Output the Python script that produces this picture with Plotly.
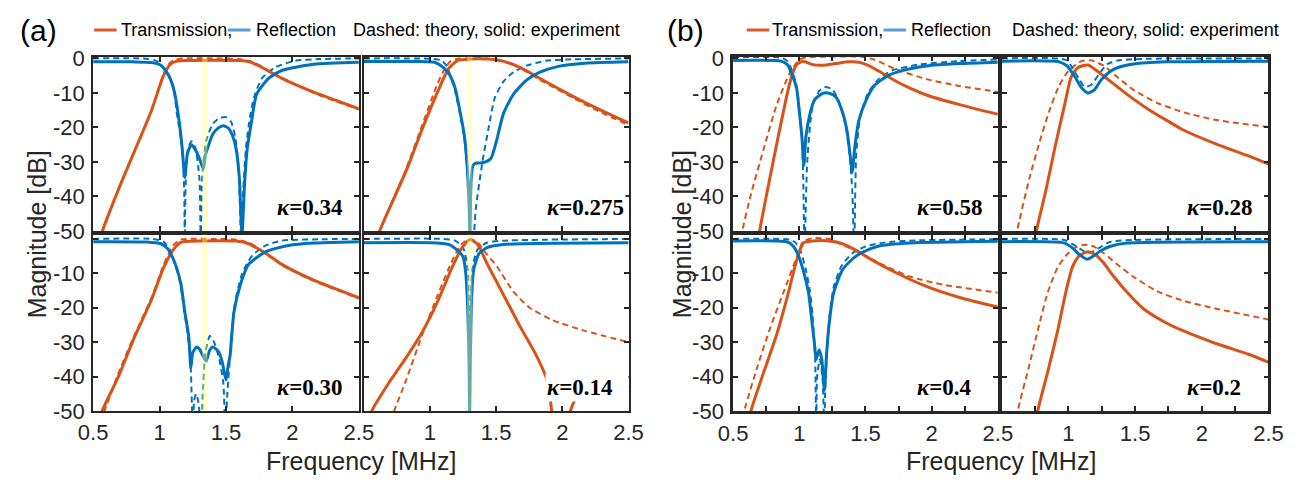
import plotly.graph_objects as go

# ---------------- data (frequency in MHz, magnitude in dB) ----------------
# Panel (a), kappa = 0.34
a1_t_exp_f = [0.55, 0.57, 0.69, 0.81, 0.94, 1.03, 1.08, 1.13, 1.2, 1.4, 1.6, 1.67, 1.77, 1.92, 2.16, 2.5]
a1_t_exp_db = [-53, -50, -38, -27, -15, -4.9, -1.7, -0.8, -0.6, -0.5, -0.6, -0.9, -2.6, -5.8, -9.8, -14.6]
a1_t_th_f = [0.55, 0.57, 0.69, 0.81, 0.94, 1.03, 1.08, 1.12, 1.2, 1.4, 1.6, 1.7, 1.8, 1.95, 2.16, 2.5]
a1_t_th_db = [-53, -50, -38, -27, -15, -4.5, -1.2, -0.3, 0, 0, -0.2, -1.0, -3.0, -6.2, -10.0, -14.8]
a1_r_exp_f = [0.5, 0.8, 0.94, 1.01, 1.07, 1.11, 1.15, 1.17, 1.19, 1.21, 1.24, 1.27, 1.30, 1.33, 1.345, 1.37, 1.40, 1.44, 1.48,
              1.52, 1.55, 1.575, 1.60, 1.62, 1.64, 1.66, 1.69, 1.73, 1.82, 1.92, 2.16, 2.5]
a1_r_exp_db = [-1, -1, -1.2, -2, -5, -9.5, -19, -26, -34.5, -27.5, -25, -26.5, -29, -32, -28, -25, -22, -20.2, -19.5,
               -20.3, -22.5, -26, -34.5, -51, -36, -26, -18.8, -10.4, -5.8, -3.5, -1.7, -1.1]
a1_r_th_f = [0.5, 0.9, 0.98, 1.05, 1.10, 1.13, 1.17, 1.185, 1.19, 1.195, 1.21, 1.24, 1.27, 1.30, 1.31, 1.32, 1.35, 1.40,
             1.45, 1.50, 1.54, 1.57, 1.595, 1.615, 1.63, 1.65, 1.68, 1.71, 1.77, 1.87, 2.02, 2.2, 2.5]
a1_r_th_db = [0, -0.1, -0.8, -4, -7.7, -16, -26, -38, -55, -38, -27, -24, -26, -35, -55, -35, -24, -19, -17.3, -17,
              -18.5, -23, -32, -55, -38, -26, -17, -11.4, -5.8, -2.6, -0.7, -0.2, 0]

# Panel (a), kappa = 0.275
a2_t_exp_f = [0.60, 0.62, 0.82, 0.94, 1.06, 1.14, 1.21, 1.30, 1.43, 1.55, 1.68, 1.83, 2.05, 2.29, 2.5]
a2_t_exp_db = [-53, -50, -32.6, -20.6, -9.5, -3, -0.6, -0.2, -0.2, -0.8, -2.6, -5.8, -10.4, -15, -18.7]
a2_t_th_f = [0.60, 0.62, 0.82, 0.94, 1.05, 1.10, 1.15, 1.19, 1.3, 1.43, 1.55, 1.68, 1.83, 2.05, 2.29, 2.5]
a2_t_th_db = [-53, -50, -32, -19.5, -8, -3.8, -1, -0.2, 0, 0, -0.8, -2.8, -6.2, -10.8, -15.6, -19.3]
a2_r_exp_f = [0.5, 0.9, 1.04, 1.10, 1.15, 1.19, 1.22, 1.26, 1.28, 1.295, 1.302, 1.31, 1.325, 1.35, 1.38, 1.42, 1.46,
              1.48, 1.506, 1.555, 1.63, 1.73, 1.83, 1.97, 2.17, 2.5]
a2_r_exp_db = [-0.9, -0.9, -1.2, -2.6, -4.9, -8.6, -14, -22.4, -30.7, -42, -51, -36, -31, -30.3, -30.3, -30, -29,
               -27, -23.4, -16, -10.4, -6.3, -4, -2.3, -1.4, -1]
a2_r_th_f = [0.5, 1.0, 1.08, 1.125, 1.19, 1.26, 1.30, 1.31, 1.32, 1.346, 1.395, 1.445, 1.49, 1.555, 1.63, 1.73, 1.875,
             2.05, 2.5]
a2_r_th_db = [0, -0.1, -0.5, -2.1, -9.5, -23.4, -41.8, -55, -55, -43.7, -30.3, -19.7, -11.4, -6.7, -4, -2.1, -0.7,
              -0.3, 0]

# Panel (a), kappa = 0.30
a3_t_exp_f = [0.55, 0.57, 0.69, 0.81, 0.94, 1.03, 1.11, 1.16, 1.3, 1.45, 1.575, 1.67, 1.80, 1.92, 2.16, 2.5]
a3_t_exp_db = [-53, -49.8, -40, -28.6, -17.6, -8.3, -2.8, -1, -0.6, -0.5, -0.6, -1.4, -4.2, -7.4, -12, -17.1]
a3_t_th_f = [0.56, 0.585, 0.69, 0.81, 0.94, 1.03, 1.10, 1.15, 1.2, 1.4, 1.58, 1.68, 1.80, 1.92, 2.16, 2.5]
a3_t_th_db = [-53, -50, -39, -28, -17, -7.5, -2, -0.3, 0, 0, -0.2, -1.2, -4.2, -7.6, -12.2, -17.3]
a3_r_exp_f = [0.5, 0.9, 1.01, 1.06, 1.11, 1.16, 1.19, 1.22, 1.235, 1.25, 1.28, 1.30, 1.32, 1.35, 1.375, 1.40, 1.44,
              1.47, 1.50, 1.515, 1.53, 1.56, 1.61, 1.67, 1.80, 1.97, 2.16, 2.5]
a3_r_exp_db = [-0.8, -0.9, -1.4, -2.8, -6.5, -13, -21.2, -28.6, -37.5, -33, -31.4, -32, -33.5, -35.5, -32.5, -31.4,
               -32.5, -35.5, -41, -37, -34, -21.2, -13, -7.4, -3.7, -1.9, -1.2, -0.8]
a3_r_th_f = [0.5, 0.95, 1.03, 1.08, 1.145, 1.19, 1.23, 1.25, 1.26, 1.275, 1.29, 1.315, 1.325, 1.345, 1.378, 1.41,
             1.45, 1.48, 1.495, 1.51, 1.53, 1.56, 1.62, 1.70, 1.80, 1.92, 2.2, 2.5]
a3_r_th_db = [0, 0, -0.8, -3.7, -11, -22, -34, -55, -47, -45, -47, -55, -45, -33, -28.2, -30, -35, -42, -55, -45,
              -34, -20.3, -10.2, -4.7, -1.9, -0.5, -0.1, 0]

# Panel (a), kappa = 0.14
a4_t_exp_f = [0.54, 0.56, 0.69, 0.82, 0.94, 1.06, 1.16, 1.235, 1.30, 1.36, 1.43, 1.555, 1.68, 1.80, 1.875, 1.90,
              1.92, 1.95, 2.0, 2.06, 2.10, 2.2, 2.35, 2.5]
a4_t_exp_db = [-52, -50, -41.8, -34.5, -27.2, -18, -8.9, -3, -0.2, -1.6, -7.1, -16.2, -25.4, -33.6, -40, -44, -50,
               -55, -56, -50, -46.5, -44.5, -43.5, -43]
a4_t_th_f = [0.71, 0.73, 0.82, 0.94, 1.06, 1.16, 1.235, 1.30, 1.36, 1.43, 1.506, 1.63, 1.75, 1.92, 2.17, 2.5]
a4_t_th_db = [-53, -50, -41, -28, -16.2, -7, -1.6, 0, -1, -4.5, -8, -15.3, -19.9, -23.5, -26.7, -30]
a4_r_exp_f = [0.5, 1.0, 1.14, 1.21, 1.25, 1.27, 1.285, 1.295, 1.30, 1.305, 1.315, 1.33, 1.37, 1.43, 1.555, 2.5]
a4_r_exp_db = [-1.1, -1.1, -1.6, -3.4, -5.2, -9.8, -20, -35, -51, -35, -17, -8.9, -4.3, -2.5, -1.6, -1.1]
a4_r_th_f = [0.5, 1.1, 1.19, 1.25, 1.285, 1.297, 1.30, 1.303, 1.32, 1.36, 1.43, 1.55, 2.5]
a4_r_th_db = [0, 0, -0.5, -2.5, -8.9, -30, -55, -30, -8.9, -3, -1.1, -0.5, 0]

# Panel (b), kappa = 0.58
b1_t_exp_f = [0.68, 0.70, 0.81, 0.93, 0.98, 1.03, 1.10, 1.18, 1.275, 1.37, 1.45, 1.52, 1.62, 1.72, 1.84, 1.96, 2.21, 2.5]
b1_t_exp_db = [-55, -50, -28.5, -6.9, -1.8, -0.8, -1.8, -2, -1.5, -1, -1.1, -2, -4.1, -6.4, -8.7, -10.6, -13.4, -16.2]
b1_t_th_f = [0.555, 0.57, 0.635, 0.73, 0.83, 0.93, 1.00, 1.05, 1.2, 1.47, 1.57, 1.72, 1.96, 2.21, 2.5]
b1_t_th_db = [-55, -50, -39.4, -26.4, -13.4, -4.1, -0.4, 0.3, 0.5, 0.5, -0.4, -3.0, -6.0, -8.0, -9.7]
b1_r_exp_f = [0.5, 0.86, 0.91, 0.94, 0.98, 1.00, 1.02, 1.035, 1.05, 1.08, 1.115, 1.18, 1.225, 1.275, 1.32, 1.36,
              1.385, 1.40, 1.42, 1.45, 1.50, 1.57, 1.67, 1.77, 1.96, 2.21, 2.5]
b1_r_exp_db = [-0.6, -0.8, -1.8, -4.1, -8.7, -15.3, -22.7, -31, -22.7, -16.2, -12, -10.1, -10.1, -11.1, -14.8, -20.8,
               -28.3, -33, -25.5, -18, -12.5, -7.8, -5, -3.6, -2.2, -1.5, -1.1]
b1_r_th_f = [0.5, 0.86, 0.91, 0.94, 0.98, 1.00, 1.02, 1.03, 1.04, 1.06, 1.10, 1.15, 1.19, 1.25, 1.30, 1.35, 1.38,
             1.40, 1.415, 1.43, 1.46, 1.52, 1.60, 1.70, 1.90, 2.2, 2.5]
b1_r_th_db = [0.3, 0.2, -0.8, -3, -8, -14.5, -23, -35, -55, -30, -14, -9.5, -8.3, -9, -12.5, -19.5, -28, -38, -55,
              -28, -17, -10, -6, -3.5, -1.8, -0.8, -0.3]

# Panel (b), kappa = 0.28
b2_t_exp_f = [0.745, 0.76, 0.83, 0.90, 0.975, 1.02, 1.07, 1.146, 1.244, 1.366, 1.488, 1.61, 1.73, 1.854, 2.10, 2.34, 2.5]
b2_t_exp_db = [-55, -50, -38.4, -25.6, -12.8, -5.4, -2.7, -1.9, -4.5, -8.2, -11.8, -15, -17.8, -20.6, -24.7, -28.1, -30.6]
b2_t_th_f = [0.60, 0.615, 0.634, 0.707, 0.78, 0.854, 0.927, 1.0, 1.098, 1.17, 1.268, 1.366, 1.488, 1.66, 1.854, 2.10, 2.5]
b2_t_th_db = [-55, -50, -46.7, -34.8, -24.7, -15.5, -8.2, -3.6, -0.8, -0.55, -2.2, -5.4, -9.1, -12.8, -15.5, -17.8, -19.9]
b2_r_exp_f = [0.5, 0.93, 0.99, 1.05, 1.10, 1.146, 1.195, 1.244, 1.305, 1.366, 1.49, 1.73, 2.5]
b2_r_exp_db = [-0.8, -1, -2.2, -5.4, -8.6, -10, -9.1, -6.3, -4, -2.7, -1.6, -1, -0.8]
b2_r_th_f = [0.5, 0.98, 1.03, 1.085, 1.12, 1.17, 1.23, 1.29, 1.37, 1.61, 2.5]
b2_r_th_db = [0, -0.4, -2.7, -6.3, -8.2, -7.7, -4.5, -1.7, -0.6, -0.1, 0]

# Panel (b), kappa = 0.4
b3_t_exp_f = [0.62, 0.635, 0.73, 0.83, 0.905, 0.98, 1.03, 1.10, 1.225, 1.325, 1.42, 1.545, 1.72, 1.96, 2.21, 2.5]
b3_t_exp_db = [-55, -50, -38.9, -27.7, -17.5, -6.3, -1.2, -0.6, -0.6, -1.4, -3.1, -6, -9.6, -13.8, -17, -19.8]
b3_t_th_f = [0.57, 0.585, 0.685, 0.78, 0.88, 0.98, 1.03, 1.10, 1.225, 1.35, 1.47, 1.62, 1.84, 2.09, 2.5]
b3_t_th_db = [-55, -50, -37, -25.9, -15.6, -5.4, -0.7, 0.2, 0, -2.1, -4.3, -7.3, -11, -13.3, -15.6]
b3_r_exp_f = [0.5, 0.91, 0.955, 0.99, 1.03, 1.07, 1.09, 1.115, 1.128, 1.15, 1.17, 1.19, 1.205, 1.225, 1.26, 1.325,
              1.40, 1.47, 1.595, 1.84, 2.5]
b3_r_exp_db = [-0.6, -0.9, -2.1, -4.5, -9.1, -15.6, -22.1, -30.5, -35, -32.2, -35, -44, -34.2, -24.9, -15.6, -9.1,
               -5.9, -4, -2.1, -1.2, -0.7]
b3_r_th_f = [0.5, 0.93, 0.97, 1.01, 1.05, 1.08, 1.10, 1.12, 1.128, 1.135, 1.155, 1.175, 1.185, 1.19, 1.195, 1.21,
             1.23, 1.26, 1.32, 1.40, 1.50, 1.65, 1.9, 2.5]
b3_r_th_db = [0, -0.2, -1, -3.5, -9, -15, -22, -35, -55, -40, -35, -40, -50, -55, -45, -32, -22, -14, -7.8, -4.2,
              -2.2, -1, -0.4, -0.1]

# Panel (b), kappa = 0.2
b4_t_exp_f = [0.755, 0.77, 0.845, 0.92, 0.98, 1.03, 1.08, 1.145, 1.20, 1.26, 1.34, 1.44, 1.56, 1.71, 1.855, 2.10, 2.35, 2.5]
b4_t_exp_db = [-55, -50, -38.6, -26.6, -15.5, -8.2, -4.9, -3.7, -4.5, -6.8, -10.9, -15.5, -20.2, -23.9, -26.6, -30.3,
               -33.5, -35.8]
b4_t_th_f = [0.605, 0.62, 0.70, 0.77, 0.845, 0.92, 0.99, 1.065, 1.13, 1.19, 1.26, 1.36, 1.485, 1.66, 1.855, 2.10, 2.5]
b4_t_th_db = [-55, -50, -37.7, -26.6, -15.5, -8.2, -4.5, -2.2, -1.7, -2.2, -4, -7.2, -10.9, -15.1, -17.9, -20.2, -23.4]
b4_r_exp_f = [0.5, 0.97, 1.03, 1.08, 1.14, 1.19, 1.24, 1.31, 1.44, 2.5]
b4_r_exp_db = [-0.8, -1.2, -2.6, -4.5, -5.9, -4.9, -3.5, -2.2, -1.2, -0.8]
b4_r_th_f = [0.5, 0.97, 1.04, 1.115, 1.165, 1.23, 1.31, 1.485, 2.5]
b4_r_th_db = [0, -0.3, -1.7, -3.5, -4, -2.6, -0.9, -0.3, 0]

kappa_labels = ["0.34", "0.275", "0.30", "0.14", "0.58", "0.28", "0.4", "0.2"]
band_a_f = [[1.32, 1.36], [1.28, 1.32], [1.32, 1.36], [1.28, 1.32]]  # highlighted frequency bands in (a)
x_ticks_a = [0.5, 1, 1.5, 2, 2.5]
x_ticks_b = [0.5, 0.75, 1, 1.25, 1.5, 1.75, 2, 2.25, 2.5]
y_ticks = [-50, -40, -30, -20, -10, 0]

# ---------------- styling / layout ----------------
W, H = 1303, 485
ORANGE = "#D95319"
BLUE = "#0072BD"
AX = "#262626"
SANS = "Liberation Sans"
SERIF = "Liberation Serif"

cols_px = [(80, 352), (357, 628), (735, 1006), (1010, 1283)]
rows_px = [(49, 232), (236, 421)]
yr = [[-50, 0.5], [-50, 1.2]]


def px_x(p):
    return p / W


def px_y(p):
    return 1 - p / H


panels = [
    (0, 0, (a1_t_th_f, a1_t_th_db, a1_r_th_f, a1_r_th_db, a1_t_exp_f, a1_t_exp_db, a1_r_exp_f, a1_r_exp_db)),
    (1, 0, (a2_t_th_f, a2_t_th_db, a2_r_th_f, a2_r_th_db, a2_t_exp_f, a2_t_exp_db, a2_r_exp_f, a2_r_exp_db)),
    (0, 1, (a3_t_th_f, a3_t_th_db, a3_r_th_f, a3_r_th_db, a3_t_exp_f, a3_t_exp_db, a3_r_exp_f, a3_r_exp_db)),
    (1, 1, (a4_t_th_f, a4_t_th_db, a4_r_th_f, a4_r_th_db, a4_t_exp_f, a4_t_exp_db, a4_r_exp_f, a4_r_exp_db)),
    (2, 0, (b1_t_th_f, b1_t_th_db, b1_r_th_f, b1_r_th_db, b1_t_exp_f, b1_t_exp_db, b1_r_exp_f, b1_r_exp_db)),
    (3, 0, (b2_t_th_f, b2_t_th_db, b2_r_th_f, b2_r_th_db, b2_t_exp_f, b2_t_exp_db, b2_r_exp_f, b2_r_exp_db)),
    (2, 1, (b3_t_th_f, b3_t_th_db, b3_r_th_f, b3_r_th_db, b3_t_exp_f, b3_t_exp_db, b3_r_exp_f, b3_r_exp_db)),
    (3, 1, (b4_t_th_f, b4_t_th_db, b4_r_th_f, b4_r_th_db, b4_t_exp_f, b4_t_exp_db, b4_r_exp_f, b4_r_exp_db)),
]

fig = go.Figure()
layout = dict(
    width=W, height=H, margin=dict(l=0, r=0, t=0, b=0),
    paper_bgcolor="white", plot_bgcolor="white", showlegend=False,
)
shapes = []
annotations = []

for i, (c, r, cv) in enumerate(panels):
    n = i + 1
    xa = "xaxis" if n == 1 else f"xaxis{n}"
    ya = "yaxis" if n == 1 else f"yaxis{n}"
    xref = "x" if n == 1 else f"x{n}"
    yref = "y" if n == 1 else f"y{n}"
    is_b = c >= 2
    lw = 2.6 if is_b else 2
    xticks = x_ticks_b if is_b else x_ticks_a
    xtext = [("" if (abs(v * 2 - round(v * 2)) > 1e-6) else f"{v:g}") for v in xticks]
    if c in (1, 3):
        xtext[0] = ""
    layout[xa] = dict(
        domain=[px_x(cols_px[c][0]), px_x(cols_px[c][1])], anchor=yref, range=[0.5, 2.5],
        showline=True, linecolor=AX, linewidth=lw, mirror="ticks", ticks="inside", ticklen=5,
        tickwidth=1.5, tickcolor=AX, showgrid=False, zeroline=False,
        tickvals=xticks, ticktext=xtext, showticklabels=(r == 1), ticklabelstandoff=1,
        tickfont=dict(family=SANS, size=22, color=AX),
    )
    ytext = [f"{v:g}" for v in y_ticks]
    if r == 1:
        ytext[-1] = ""
    layout[ya] = dict(
        domain=[px_y(rows_px[r][1]), px_y(rows_px[r][0])], anchor=xref, range=yr[r],
        showline=True, linecolor=AX, linewidth=lw, mirror="ticks", ticks="inside", ticklen=5,
        tickwidth=1.5, tickcolor=AX, showgrid=False, zeroline=False,
        tickvals=y_ticks, ticktext=ytext, showticklabels=(c in (0, 2)), ticklabelstandoff=2,
        tickfont=dict(family=SANS, size=22, color=AX),
    )
    tf, tdb, rf, rdb, tef, tedb, ref, redb = cv
    for fx, dy, col, dash, w in [
        (tf, tdb, ORANGE, "6px,4px", 2.0),
        (rf, rdb, BLUE, "6px,4px", 2.0),
        (tef, tedb, ORANGE, "solid", 3.0),
        (ref, redb, BLUE, "solid", 3.0),
    ]:
        fig.add_trace(go.Scatter(
            x=fx, y=dy, mode="lines", xaxis=xref, yaxis=yref,
            line=dict(color=col, width=w, dash=dash, shape="spline", smoothing=0.6),
            hoverinfo="skip",
        ))
    if not is_b:
        b0, b1 = band_a_f[i]
        shapes.append(dict(type="rect", xref=xref, yref=f"{yref} domain", x0=b0, x1=b1, y0=0, y1=1,
                           fillcolor="#FFFF80", opacity=0.4, line=dict(width=0), layer="above"))
    annotations.append(dict(
        xref=xref, yref=yref, x=1.872, y=-43.3, xanchor="left", yanchor="middle",
        text=f"<b><i>κ</i>=" + kappa_labels[i] + "</b>", showarrow=False,
        font=dict(family=SERIF, size=23, color="black"),
        bgcolor="white", width=80 if i == 3 else None, align="left",
    ))

# axis titles, panel letters and the text legends
for xc, letter, lx in [(22, "(a)", 24), (683, "(b)", 686)]:
    annotations.append(dict(xref="paper", yref="paper", x=px_x(xc), y=px_y(235), text="Magnitude [dB]",
                            xanchor="center", yanchor="middle",
                            textangle=-90, showarrow=False, font=dict(family=SANS, size=25, color=AX)))
    annotations.append(dict(xref="paper", yref="paper", x=px_x(lx), y=px_y(22), text=letter,
                            xanchor="center", yanchor="middle",
                            showarrow=False, font=dict(family=SANS, size=30, color="black")))
for cx in [(80 + 628) / 2, (735 + 1283) / 2]:
    annotations.append(dict(xref="paper", yref="paper", x=px_x(cx), y=px_y(473), text="Frequency [MHz]",
                            xanchor="center", yanchor="middle",
                            showarrow=False, font=dict(family=SANS, size=25, color=AX)))

legend_rows = [(81, 106, 218, 245, 344), (749, 773, 889, 915, 1018)]
for o0, ttx, b0, rtx, dtx in legend_rows:
    yl = px_y(21)
    shapes.append(dict(type="line", xref="paper", yref="paper", x0=px_x(o0), x1=px_x(o0 + 23), y0=yl, y1=yl,
                       line=dict(color="#E0572A", width=3)))
    shapes.append(dict(type="line", xref="paper", yref="paper", x0=px_x(b0), x1=px_x(b0 + 23), y0=yl, y1=yl,
                       line=dict(color="#5B9BD5", width=3)))
    for tx, s in [(ttx, "Transmission,"), (rtx, "Reflection"), (dtx, "Dashed: theory, solid: experiment")]:
        annotations.append(dict(xref="paper", yref="paper", x=px_x(tx), y=yl, xanchor="left", yanchor="middle",
                                text=s, showarrow=False, font=dict(family=SANS, size=18, color="black")))

layout["shapes"] = shapes
layout["annotations"] = annotations
fig.update_layout(**layout)
fig.write_html("out.html")
